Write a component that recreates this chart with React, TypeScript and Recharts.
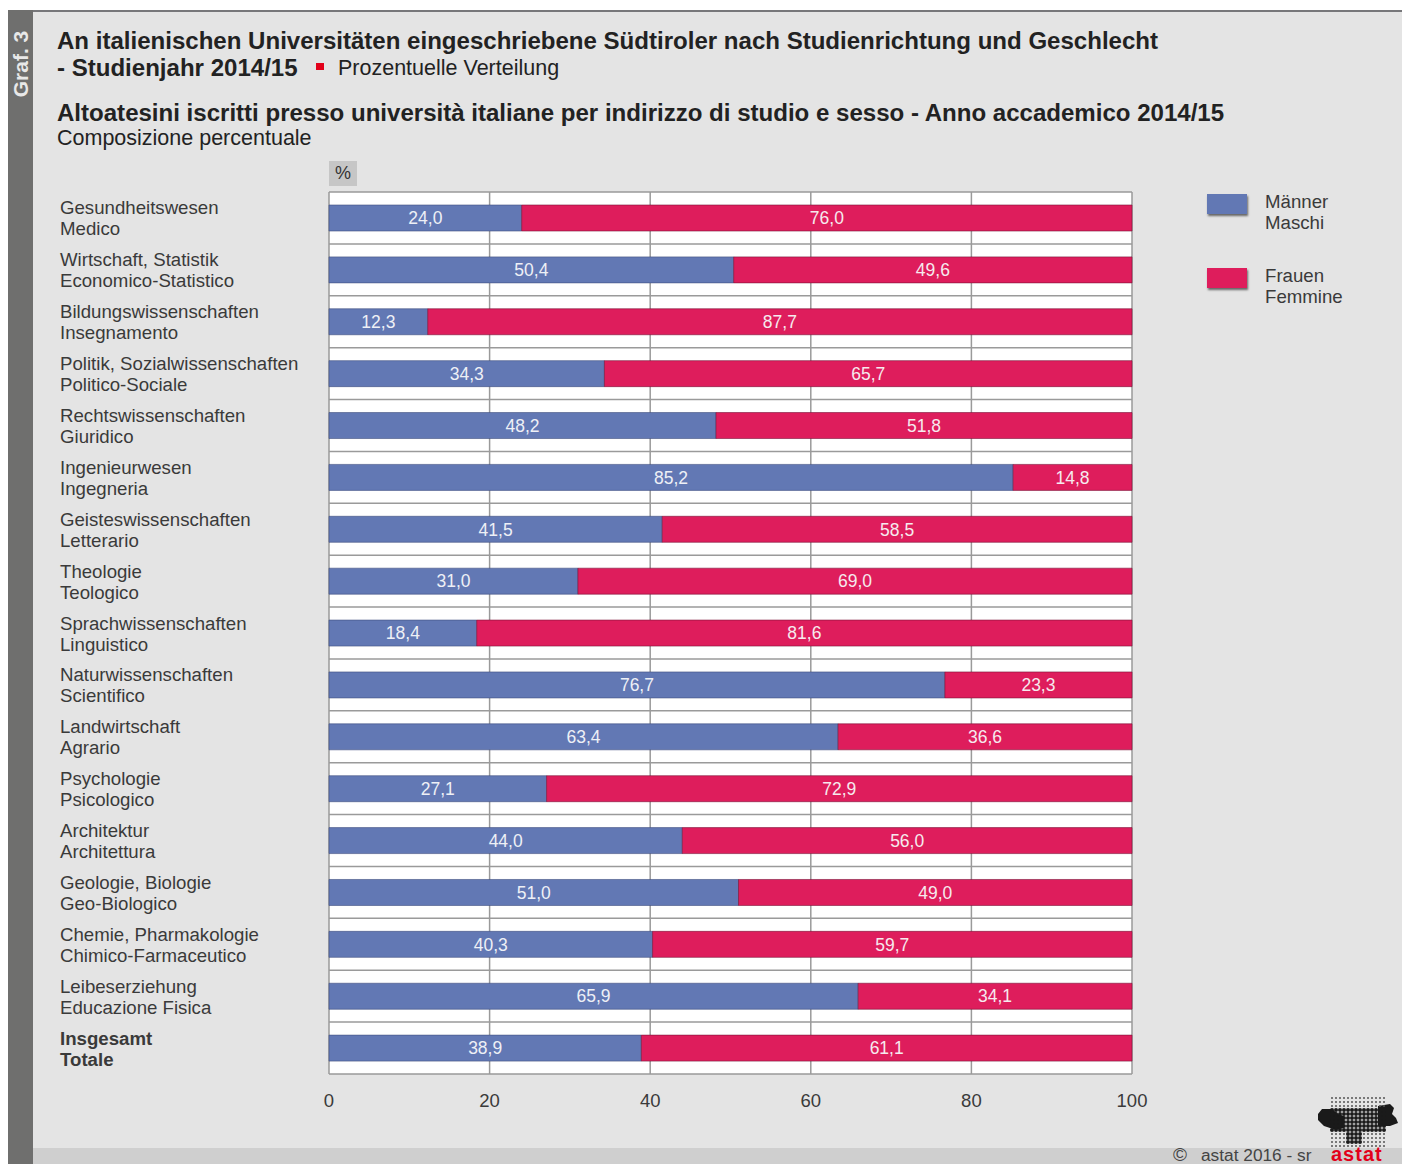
import React from "react";
import { BarChart, Bar, XAxis, YAxis, CartesianGrid, LabelList, Legend } from "recharts";

const labelsDe = ["Gesundheitswesen","Wirtschaft, Statistik","Bildungswissenschaften","Politik, Sozialwissenschaften","Rechtswissenschaften","Ingenieurwesen","Geisteswissenschaften","Theologie","Sprachwissenschaften","Naturwissenschaften","Landwirtschaft","Psychologie","Architektur","Geologie, Biologie","Chemie, Pharmakologie","Leibeserziehung","Insgesamt"];
const labelsIt = ["Medico","Economico-Statistico","Insegnamento","Politico-Sociale","Giuridico","Ingegneria","Letterario","Teologico","Linguistico","Scientifico","Agrario","Psicologico","Architettura","Geo-Biologico","Chimico-Farmaceutico","Educazione Fisica","Totale"];
const maenner = [24.0,50.4,12.3,34.3,48.2,85.2,41.5,31.0,18.4,76.7,63.4,27.1,44.0,51.0,40.3,65.9,38.9];
const frauen = [76.0,49.6,87.7,65.7,51.8,14.8,58.5,69.0,81.6,23.3,36.6,72.9,56.0,49.0,59.7,34.1,61.1];
const xTicks = [0,20,40,60,80,100];

const data = labelsDe.map((de,i)=>({key:de,de,it:labelsIt[i],m:maenner[i],f:frauen[i]}));
const FONT = "'Liberation Sans', Arial, sans-serif";
const BLUE = "#6278b4";
const RED = "#de1d5c";
const fmt = (v:any)=>Number(v).toFixed(1).replace(".",",");

const CatTick = (props:any)=>{
  const {y,index} = props;
  const d = data[index];
  const bold = index===data.length-1;
  return (
    <text x={60} y={y} fontFamily={FONT} fontSize={18.65} fontWeight={bold?700:400} fill="#3a3a3a">
      <tspan x={60} dy={-3.5}>{d.de}</tspan>
      <tspan x={60} dy={21}>{d.it}</tspan>
    </text>
  );
};

const LegendContent = ()=>(
  <div style={{position:"relative",width:190,height:120,fontFamily:FONT,fontSize:18.65,lineHeight:"21px",color:"#3a3a3a",textAlign:"left"}}>
    {[{c:BLUE,a:"Männer",b:"Maschi",t:0},{c:RED,a:"Frauen",b:"Femmine",t:74}].map(r=>(
      <div key={r.a}>
        <div style={{position:"absolute",left:0,top:r.t+3,width:40,height:20,background:r.c,boxShadow:"1px 2px 2px #666"}}/>
        <div style={{position:"absolute",left:58,top:r.t}}>{r.a}<br/>{r.b}</div>
      </div>
    ))}
  </div>
);

const Abs = ({x,y,size,bold,children,color,spacing}:any)=>(
  <div style={{position:"absolute",left:x,top:y,fontFamily:FONT,fontSize:size,fontWeight:bold?700:400,color:color||"#222",whiteSpace:"nowrap",lineHeight:1,letterSpacing:spacing||0}}>{children}</div>
);

const dotsX = Array.from({length:14},(_,i)=>i);
const dotsY = Array.from({length:13},(_,i)=>i);

const Logo = ()=>(
  <svg style={{position:"absolute",left:1312,top:1092}} width={90} height={60}>
    <path d="M6 22 L10 17 L20 17 L26 22 L32 24 L32 36 L24 38 L12 34 L6 28 Z" fill="#1a1a1a"/>
    <path d="M66 14 L78 12 L82 16 L80 22 L84 26 L86 31 L78 34 L66 34 Z" fill="#1a1a1a"/>
    {dotsX.map(i=>dotsY.map(j=>{
      const inner = (j>=3&&j<=8)||(j>=9&&j<=11&&i>=4&&i<=7);
      return <circle key={i+"-"+j} cx={20+i*4} cy={6+j*4} r={inner?2:1} fill={inner?"#1a1a1a":"#555"}/>;
    }))}
  </svg>
);

export default function App(){
  return (
    <div style={{position:"absolute",left:0,top:0,width:1402,height:1164,overflow:"hidden",background:"#fff"}}>
      <div style={{position:"absolute",left:8,top:10,width:1394,height:1154,background:"#e4e4e4",borderTop:"2px solid #77777a",boxSizing:"border-box"}}/>
      <div style={{position:"absolute",left:8,top:10,width:25,height:1154,background:"#6f6f6e"}}/>
      <div style={{position:"absolute",left:33,top:1148,width:1369,height:16,background:"#cfcfcf"}}/>
      <div style={{position:"absolute",left:20.5,top:64,transform:"translate(-50%,-50%) rotate(-90deg)",fontFamily:FONT,fontSize:21,fontWeight:700,color:"#e8e8e8",whiteSpace:"nowrap"}}>Graf. 3</div>

      <Abs x={57} y={29} size={24.05} bold>An italienischen Universitäten eingeschriebene Südtiroler nach Studienrichtung und Geschlecht</Abs>
      <Abs x={57} y={56} size={24.05} bold>- Studienjahr 2014/15</Abs>
      <div style={{position:"absolute",left:316,top:63,width:8,height:7,background:"#e2001a"}}/>
      <Abs x={338} y={58} size={21.5}>Prozentuelle Verteilung</Abs>
      <Abs x={57} y={101} size={24.05} bold>Altoatesini iscritti presso università italiane per indirizzo di studio e sesso - Anno accademico 2014/15</Abs>
      <Abs x={57} y={128} size={21.5}>Composizione percentuale</Abs>
      <div style={{position:"absolute",left:329,top:161,width:28,height:25,background:"#c6c6c6",fontFamily:FONT,fontSize:18,color:"#333",textAlign:"center",lineHeight:"25px"}}>%</div>

      <div style={{position:"absolute",left:0,top:0}}>
        <BarChart width={1402} height={1164} data={data} layout="vertical" barCategoryGap={0} margin={{top:192,right:270,bottom:60,left:0}}>
          <CartesianGrid fill="#ffffff" stroke="#9a9a9a" strokeWidth={1.5}
            verticalValues={xTicks}
            horizontalCoordinatesGenerator={({offset}:any)=>Array.from({length:data.length+1},(_,i)=>offset.top+i*offset.height/data.length)}
          />
          <XAxis type="number" domain={[0,100]} ticks={xTicks} height={30} axisLine={false} tickLine={false} tickMargin={14}
            tick={{fontFamily:FONT,fontSize:18.5,fill:"#3a3a3a"}} interval={0}/>
          <YAxis type="category" dataKey="key" width={329} interval={0} axisLine={false} tickLine={false} tick={<CatTick/>}/>
          <Legend layout="horizontal" verticalAlign="middle" align="center" content={<LegendContent/>} wrapperStyle={{position:"absolute",left:1207,top:191,width:190,height:120}}/>
          <Bar dataKey="m" stackId="a" fill={BLUE} stroke="#3f4f80" strokeWidth={0.6} barSize={26} isAnimationActive={false}>
            <LabelList dataKey="m" position="center" formatter={fmt} fill="#eef0f6" fontFamily={FONT} fontSize={17.5}/>
          </Bar>
          <Bar dataKey="f" stackId="a" fill={RED} stroke="#7a1238" strokeWidth={0.6} barSize={26} isAnimationActive={false}>
            <LabelList dataKey="f" position="center" formatter={fmt} fill="#f6eaee" fontFamily={FONT} fontSize={17.5}/>
          </Bar>
        </BarChart>
      </div>

      <Logo/>
      <Abs x={1173} y={1145} size={19} color="#444">©</Abs>
      <Abs x={1201} y={1146.5} size={17.3} color="#444">astat 2016 - sr</Abs>
      <Abs x={1331} y={1144} size={20} bold color="#e2001a" spacing={1}>astat</Abs>
    </div>
  );
}
